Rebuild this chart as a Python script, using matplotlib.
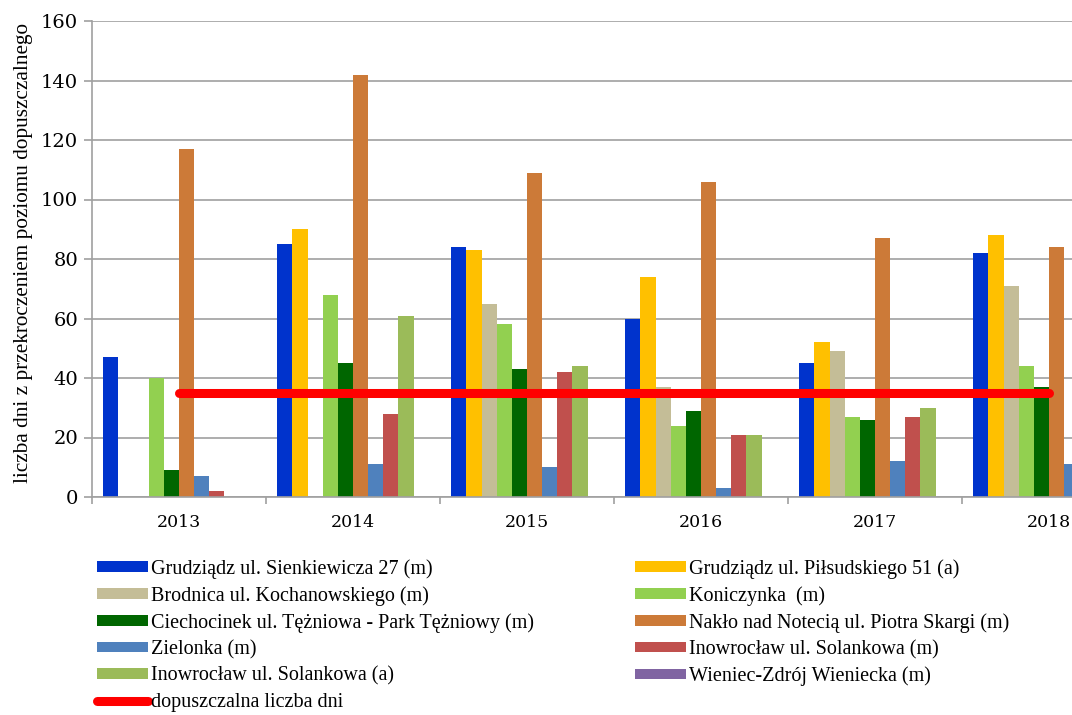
import matplotlib
matplotlib.use("Agg")
import matplotlib.pyplot as plt
import numpy as np

years = ["2013", "2014", "2015", "2016", "2017", "2018"]
series_names = [
    "Grudziądz ul. Sienkiewicza 27 (m)",
    "Grudziądz ul. Piłsudskiego 51 (a)",
    "Brodnica ul. Kochanowskiego (m)",
    "Koniczynka  (m)",
    "Ciechocinek ul. Tężniowa - Park Tężniowy (m)",
    "Nakło nad Notecią ul. Piotra Skargi (m)",
    "Zielonka (m)",
    "Inowrocław ul. Solankowa (m)",
    "Inowrocław ul. Solankowa (a)",
    "Wieniec-Zdrój Wieniecka (m)",
]
sienkiewicza = [47, 85, 84, 60, 45, 82]
pilsudskiego = [0, 90, 83, 74, 52, 88]
brodnica = [0, 0, 65, 37, 49, 71]
koniczynka = [40, 68, 58, 24, 27, 44]
ciechocinek = [9, 45, 43, 29, 26, 37]
naklo = [117, 142, 109, 106, 87, 84]
zielonka = [7, 11, 10, 3, 12, 11]
inowroclaw_m = [2, 28, 42, 21, 27, np.nan]
inowroclaw_a = [0, 61, 44, 21, 30, np.nan]
wieniec = [0, 0, 0, 0, 0, np.nan]
limit_name = "dopuszczalna liczba dni"
limit = [35, 35, 35, 35, 35, 35]

values = [sienkiewicza, pilsudskiego, brodnica, koniczynka, ciechocinek,
          naklo, zielonka, inowroclaw_m, inowroclaw_a, wieniec]
colors = ["#0033CC", "#FFC000", "#C4BD97", "#92D050", "#006600",
          "#CC7A38", "#4F81BD", "#C0504D", "#9BBB59", "#8064A2"]

serif = ["Liberation Serif", "DejaVu Serif"]

fig = plt.figure(figsize=(10.72, 7.15), dpi=100)
W, H = 1072, 715
x0, x1, y0, y1 = 92, 1136, 497, 21
ax = fig.add_axes([x0 / W, 1 - y0 / H, (x1 - x0) / W, (y0 - y1) / H])

x = np.arange(len(years))
n = len(values)
w = 1 / (n + 1.5)
handles = []
for i, (vals, c, name) in enumerate(zip(values, colors, series_names)):
    b = ax.bar(x + (i - (n - 1) / 2) * w, vals, width=w, color=c,
               linewidth=0, label=name, zorder=2)
    handles.append(b)
line, = ax.plot(x, limit, color="#FF0000", linewidth=6.5,
                solid_capstyle="round", label=limit_name, zorder=3)

ax.set_xlim(-0.5, len(years) - 0.5)
ax.set_ylim(0, 160)
ax.set_yticks(np.arange(0, 161, 20))
ax.yaxis.grid(True, color="#A0A0A0", linewidth=1.2, zorder=0)
ax.set_axisbelow(True)
ax.set_xticks(x)
ax.set_xticklabels(years, fontfamily="DejaVu Serif", fontsize=12.5)
ax.set_xticks(np.arange(-0.5, len(years), 1), minor=True)
ax.tick_params(axis="x", which="major", length=0, pad=12)
ax.tick_params(axis="x", which="minor", length=5, color="#A0A0A0", width=1.2,
               direction="out")
ax.tick_params(axis="y", length=6, color="#A0A0A0", width=1.2, pad=4)
for lbl in ax.get_yticklabels():
    lbl.set_fontfamily("DejaVu Serif")
    lbl.set_fontsize(14)
for s in ["top", "right"]:
    ax.spines[s].set_visible(False)
for s in ["left", "bottom"]:
    ax.spines[s].set_color("#A0A0A0")
    ax.spines[s].set_linewidth(1.2)

ax.set_ylabel("liczba dni z przekroczeniem poziomu dopuszczalnego",
              fontfamily=serif, fontsize=15.3)
ax.yaxis.set_label_coords(-0.0565, 0.513)

order = [0, 2, 4, 6, 8]
order2 = [1, 3, 5, 7, 9]
leg_handles = [handles[i] for i in order] + [line] + [handles[i] for i in order2]
leg_labels = [series_names[i] for i in order] + [limit_name] + [series_names[i] for i in order2]
leg = fig.legend(leg_handles, leg_labels, ncol=2, loc="upper left",
                 bbox_to_anchor=(97 / W, 1 - 559 / H), frameon=False,
                 prop={"family": serif, "size": 14.5},
                 handlelength=2.55, handleheight=0.42, handletextpad=0.15,
                 labelspacing=0.36, columnspacing=5.0, borderaxespad=0,
                 borderpad=0)

fig.savefig("out.png", dpi=100)
